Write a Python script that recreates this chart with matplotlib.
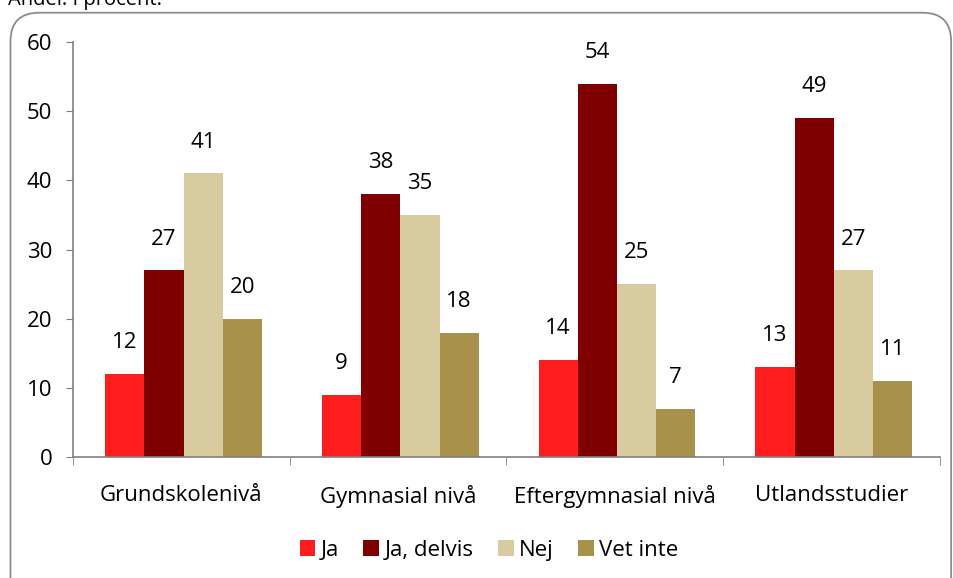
import numpy as np
import matplotlib.pyplot as plt
from matplotlib.patches import FancyBboxPatch

plt.rcParams['font.family'] = ['Open Sans', 'DejaVu Sans']

# andel i procent per nivå
categories = ["Grundskolenivå", "Gymnasial nivå", "Eftergymnasial nivå", "Utlandsstudier"]
series_names = ["Ja", "Ja, delvis", "Nej", "Vet inte"]
ja = [12, 9, 14, 13]
ja_delvis = [27, 38, 54, 49]
nej = [41, 35, 25, 27]
vet_inte = [20, 18, 7, 11]
colors = ["#FF1C1C", "#800000", "#D8CB9F", "#A8914A"]

fs = 16

fig = plt.figure(figsize=(9.54, 5.78), dpi=100)
ax = fig.add_axes([0.0765, 0.2093, 0.9088, 0.718])

# rounded frame around the chart area
frame = FancyBboxPatch((0.011, -0.05), 0.986, 1.028, boxstyle="round,pad=0,rounding_size=0.03",
                       transform=fig.transFigure, facecolor="none", edgecolor="#8c8c8c",
                       linewidth=1.3, mutation_aspect=954 / 578, clip_on=False)
fig.patches.append(frame)
fig.text(0.008, 1.0, "Andel. I procent.", fontsize=14.5, va="center", ha="left")

x = np.arange(len(categories))
w = 0.181
for i, (name, vals) in enumerate(zip(series_names, [ja, ja_delvis, nej, vet_inte])):
    pos = x + (i - 1.5) * w + 0.01
    ax.bar(pos, vals, width=w, color=colors[i], label=name)
    for p, v in zip(pos, vals):
        ax.text(p, v + 3, str(v), ha="center", va="bottom", fontsize=fs)

ax.set_xlim(-0.5, len(categories) - 0.5)
ax.set_ylim(0, 60)
ax.set_yticks(range(0, 61, 10))
ax.tick_params(axis="y", labelsize=fs, length=5, color="#808080", pad=10)
ax.set_xticks(x)
ax.set_xticklabels(categories, fontsize=fs)
ax.tick_params(axis="x", length=0, pad=20)
# category separators below the axis
ax.set_xticks(np.arange(-0.5, len(categories)), minor=True)
ax.tick_params(axis="x", which="minor", length=6, color="#808080")

for s in ["top", "right"]:
    ax.spines[s].set_visible(False)
for s in ["left", "bottom"]:
    ax.spines[s].set_color("#808080")
    ax.spines[s].set_linewidth(1.2)

ax.legend(loc="center", bbox_to_anchor=(0.48, -0.225), ncol=4, frameon=False,
          fontsize=fs, handlelength=0.7, handleheight=0.7, handletextpad=0.25,
          columnspacing=1.1)

fig.savefig("out.png", dpi=100)
